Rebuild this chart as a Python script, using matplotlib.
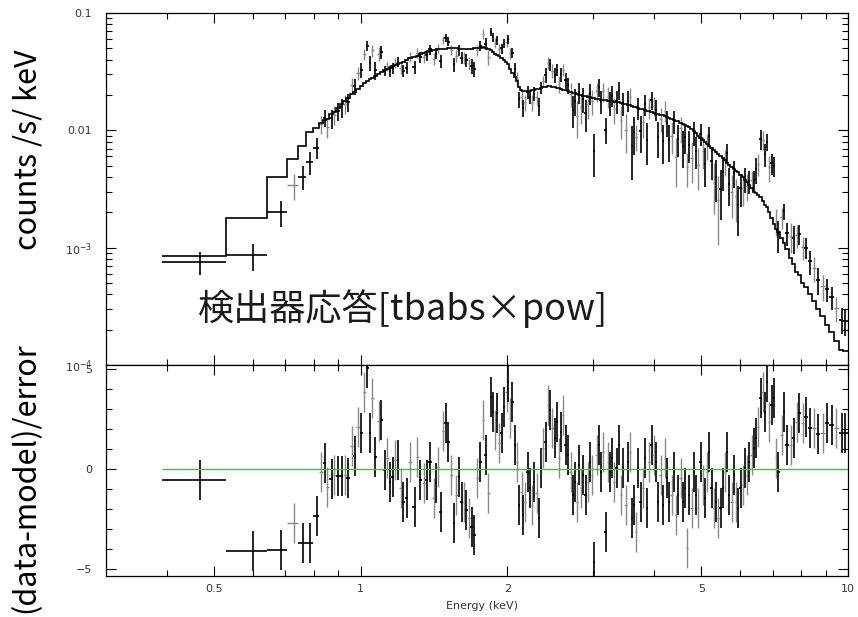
import numpy as np
import matplotlib
matplotlib.use("Agg")
import matplotlib.pyplot as plt
from matplotlib.ticker import FixedLocator, FixedFormatter, NullFormatter, LogLocator

# Spectrum bins: centre energy (keV), folded model (counts/s/keV),
# residual in units of sigma, and 1-sigma error as a fraction of the model.
energy_kev = [
    0.467, 0.600, 0.685, 0.729, 0.760, 0.786, 0.812, 0.830, 0.844, 0.852,
    0.871, 0.880, 0.897, 0.913, 0.927, 0.940, 0.960, 0.972, 0.987, 1.003,
    1.016, 1.030, 1.047, 1.057, 1.072, 1.089, 1.099, 1.120, 1.134, 1.147,
    1.165, 1.178, 1.190, 1.208, 1.221, 1.245, 1.261, 1.291, 1.307, 1.326,
    1.347, 1.368, 1.386, 1.412, 1.430, 1.441, 1.458, 1.476, 1.493, 1.511,
    1.535, 1.552, 1.572, 1.591, 1.610, 1.627, 1.648, 1.669, 1.688, 1.709,
    1.734, 1.756, 1.783, 1.806, 1.826, 1.849, 1.869, 1.890, 1.905, 1.923,
    1.945, 1.969, 1.992, 2.006, 2.029, 2.048, 2.072, 2.094, 2.114, 2.138,
    2.154, 2.172, 2.199, 2.223, 2.248, 2.269, 2.295, 2.320, 2.342, 2.368,
    2.395, 2.418, 2.444, 2.471, 2.503, 2.523, 2.551, 2.575, 2.603, 2.633,
    2.665, 2.696, 2.721, 2.751, 2.773, 2.803, 2.829, 2.861, 2.893, 2.921,
    2.953, 2.985, 3.014, 3.048, 3.082, 3.111, 3.145, 3.181, 3.211, 3.246,
    3.281, 3.313, 3.351, 3.388, 3.420, 3.457, 3.496, 3.529, 3.568, 3.607,
    3.636, 3.670, 3.710, 3.752, 3.788, 3.829, 3.871, 3.908, 3.953, 3.996,
    4.033, 4.078, 4.124, 4.163, 4.208, 4.254, 4.295, 4.345, 4.392, 4.434,
    4.482, 4.534, 4.577, 4.627, 4.677, 4.722, 4.776, 4.828, 4.874, 4.927,
    4.983, 5.030, 5.086, 5.141, 5.190, 5.249, 5.307, 5.358, 5.416, 5.478,
    5.530, 5.590, 5.651, 5.704, 5.769, 5.832, 5.888, 5.952, 6.020, 6.078,
    6.144, 6.212, 6.272, 6.344, 6.412, 6.473, 6.544, 6.619, 6.682, 6.754,
    6.809, 6.892, 6.971, 7.047, 7.115, 7.192, 7.310, 7.389, 7.483, 7.625,
    7.746, 7.847, 7.943, 8.072, 8.200, 8.356, 8.515, 8.690, 8.872, 9.068,
    9.258, 9.449, 9.707, 9.858,
]

model_rate = [
    0.00085, 0.00178, 0.0040, 0.0057, 0.0074, 0.0096, 0.0105, 0.0115, 0.0122, 0.0126,
    0.0138, 0.0143, 0.0155, 0.0167, 0.0178, 0.0188, 0.0203, 0.0213, 0.0226, 0.0240,
    0.0252, 0.0263, 0.0275, 0.0282, 0.0293, 0.0305, 0.0312, 0.0325, 0.0333, 0.0341,
    0.0352, 0.0360, 0.0367, 0.0378, 0.0386, 0.0400, 0.0410, 0.0425, 0.0433, 0.0444,
    0.0455, 0.0465, 0.0472, 0.0480, 0.0486, 0.0489, 0.0493, 0.0496, 0.0498, 0.0500,
    0.0500, 0.0500, 0.0499, 0.0498, 0.0497, 0.0496, 0.0496, 0.0497, 0.0498, 0.0500,
    0.0503, 0.0507, 0.0512, 0.0505, 0.0495, 0.0480, 0.0465, 0.0450, 0.0440, 0.0428,
    0.0412, 0.0398, 0.0384, 0.0370, 0.0335, 0.0310, 0.0285, 0.0262, 0.0235, 0.0222,
    0.0216, 0.0215, 0.0216, 0.0218, 0.0220, 0.0222, 0.0224, 0.0227, 0.0230, 0.0233,
    0.0236, 0.0238, 0.0238, 0.0236, 0.0233, 0.0231, 0.0228, 0.0225, 0.0222, 0.0219,
    0.0215, 0.0212, 0.0210, 0.0207, 0.0205, 0.0202, 0.0200, 0.0198, 0.0196, 0.0194,
    0.0192, 0.0190, 0.0188, 0.0186, 0.0184, 0.0183, 0.0181, 0.0180, 0.0179, 0.0178,
    0.0177, 0.0176, 0.0175, 0.0173, 0.0171, 0.0169, 0.0167, 0.0165, 0.0163, 0.0161,
    0.0159, 0.0157, 0.0155, 0.0153, 0.0151, 0.0149, 0.0147, 0.0145, 0.0143, 0.0141,
    0.0139, 0.0137, 0.0135, 0.0134, 0.0132, 0.0130, 0.0128, 0.0126, 0.0123, 0.0121,
    0.0119, 0.0116, 0.0114, 0.0111, 0.0109, 0.0106, 0.0102, 0.0098, 0.0094, 0.0090,
    0.0086, 0.0083, 0.0080, 0.0077, 0.0074, 0.0071, 0.0068, 0.0066, 0.0063, 0.0060,
    0.0058, 0.0056, 0.0053, 0.0051, 0.0049, 0.0047, 0.0045, 0.0044, 0.0042, 0.0040,
    0.0038, 0.0036, 0.0034, 0.0032, 0.0030, 0.0029, 0.0028, 0.0027, 0.0025, 0.0023,
    0.0022, 0.0020, 0.0018, 0.0016, 0.00145, 0.00135, 0.00120, 0.00110, 0.00098, 0.00082,
    0.00072, 0.00062, 0.00058, 0.00050, 0.00046, 0.00040, 0.00035, 0.00030, 0.00026, 0.00022,
    0.00019, 0.00016, 0.000135, 0.000132,
]

delchi = [
    -0.57, -4.10, -4.03, -2.70, -3.70, -3.70, -2.37, -0.13, 0.28, -0.90,
    -0.50, -0.30, -0.36, -0.36, -0.30, -0.44, 1.15, 0.65, 2.10, 1.82,
    3.83, 5.03, 1.82, 3.53, 0.58, 2.40, 2.45, -0.05, 0.53, -0.63,
    -0.38, 0.45, 0.45, -0.97, -1.63, -1.47, 0.37, -1.88, 0.62, -0.55,
    -0.72, -0.55, 0.37, -1.47, -0.72, 0.12, -2.13, 1.88, 2.28, 1.37,
    -0.30, -2.72, -1.30, -0.38, -1.63, -1.63, -2.05, -2.47, -2.88, -3.30,
    -0.47, 0.37, 2.45, 0.70, -1.22, 3.62, 2.87, 1.95, 2.78, 1.28,
    1.78, 3.12, 3.87, 4.37, 2.53, 3.37, 1.20, 0.37, -1.80, -1.13,
    -2.30, -1.63, -0.13, -0.97, -1.80, -0.63, -1.22, -2.47, 0.03, 1.03,
    1.37, 3.20, 2.95, 2.03, 1.53, 2.37, 0.53, 1.87, 2.70, 1.20,
    0.70, -0.13, -1.30, -0.63, -1.63, 0.20, -0.97, -0.30, -1.30, -0.63,
    0.37, -0.30, -4.63, 0.70, 1.20, -0.13, 0.87, -3.13, 0.37, -0.13,
    0.53, -0.63, 0.03, 1.20, -1.30, 0.03, -1.80, 0.37, 0.87, -2.47,
    -1.80, -3.13, 0.03, -1.63, -0.97, 0.53, -1.97, 0.37, 1.20, 0.70,
    0.37, -1.63, -0.30, -1.80, 0.53, -0.47, -1.63, -1.30, -0.13, -2.30,
    -1.30, -0.47, -1.63, -0.97, -3.97, -1.30, -1.97, -0.13, -1.30, -1.97,
    0.37, -0.80, -1.47, -0.13, 0.87, -0.97, -1.97, -1.63, -2.47, -1.97,
    -0.97, -0.13, 0.87, -1.30, -1.63, -0.30, -1.63, -1.97, -0.97, -0.80,
    0.03, -0.30, 0.37, 0.70, 1.03, 1.53, 2.12, 3.53, 3.87, 2.87,
    4.37, 2.37, 3.20, 3.53, 0.53, -0.13, 1.70, 2.87, 1.20, 1.20,
    1.53, 2.37, 2.78, 2.28, 2.62, 2.03, 2.03, 1.73, 1.78, 2.28,
    2.20, 2.03, 1.78, 1.78,
]

# fractional 1-sigma error, band by band
err_frac = (
    [0.20, 0.126, 0.124, 0.15, 0.124, 0.12, 0.137]   # 0.47-0.81 keV
    + [0.17] * 12                                    # 0.83-0.99 keV
    + [0.20] * 8                                     # 1.00-1.10 keV
    + [0.10] * 35                                    # 1.12-1.76 keV
    + [0.12] * 11                                    # 1.78-1.99 keV
    + [0.14] * 5                                     # 2.00-2.09 keV
    + [0.12] * 12                                    # 2.11-2.37 keV
    + [0.18] * 11                                    # 2.40-2.67 keV
    + [0.22] * 11 + [0.14]                           # 2.70-3.01 keV
    + [0.22] * 4 + [0.14]                            # 3.05-3.18 keV
    + [0.22] * 13 + [0.14]                           # 3.21-3.67 keV
    + [0.22] * 22 + [0.14]                           # 3.71-4.68 keV
    + [0.22] * 5                                     # 4.72-4.93 keV
    + [0.24] * 25                                    # 4.98-6.41 keV
    + [0.40] * 2                                     # 6.47-6.54 keV
    + [0.60] * 7                                     # 6.62-7.05 keV (Fe K)
    + [0.30] * 5                                     # 7.12-7.48 keV
    + [0.45] * 15                                    # 7.63-9.86 keV
)

# which detector each bin comes from: k = black, g = grey
detector = "".join([
    "kkkgkkkgkg", "kgkkgkgkgk", "gkkgkgkkgk", "kgkgkkgkgk", "gkkgkgkgkk",
    "gkgkkgkgkk", "gkgkgkkgkg", "kkgkgkkgkg", "kgkkgkgkkg", "kgkgkkgkgk",
    "kgkkgkgkkg", "kgkgkkgkgk", "kgkkgkgkgk", "kgkkgkkgkg", "kkgkgkkgkg",
    "kgkkgkgkkg", "kgkgkkgkgk", "kgkkgkgkkg", "kgkgkkgkgk", "kgkkgkgkkg",
    "kgkgkkgkgk", "kgkk",
])

band_lo, band_hi = 0.39, 10.0

E = np.array(energy_kev)
edges = np.concatenate([[band_lo], np.sqrt(E[1:] * E[:-1]), [band_hi]])
xlo = E - edges[:-1]
xhi = edges[1:] - E
model = np.array(model_rate)
sigma = model * np.array(err_frac)
resid = np.array(delchi)
rate = model + resid * sigma
det = np.array(list(detector))

plt.rcParams["font.family"] = ["DejaVu Sans"]
JP = ["Noto Sans CJK JP", "DejaVu Sans"]
TICK_COLOR = "#333333"
styles = {"g": ("#8a8a8a", 1.0), "k": ("#000000", 1.2)}

W, H = 858, 617
fig = plt.figure(figsize=(W / 100, H / 100), dpi=100)
ax1 = fig.add_axes([106 / W, 1 - 365 / H, 742 / W, 352 / H])
ax2 = fig.add_axes([106 / W, 1 - 576 / H, 742 / W, 211 / H], sharex=ax1)

for key in ("g", "k"):
    m = det == key
    col, lw = styles[key]
    ax1.errorbar(E[m], rate[m], xerr=[xlo[m], xhi[m]], yerr=sigma[m],
                 fmt="none", ecolor=col, elinewidth=lw, capsize=0)
    ax2.errorbar(E[m], resid[m], xerr=[xlo[m], xhi[m]], yerr=np.ones(m.sum()),
                 fmt="none", ecolor=col, elinewidth=lw, capsize=0)

ax1.stairs(model, edges, color="black", lw=1.2, baseline=None, zorder=4)
ax2.hlines(0, band_lo, band_hi, color="#00ee00", lw=1.0, zorder=5)

ax1.set_xscale("log")
ax1.set_yscale("log")
ax1.set_xlim(0.3, 10)
ax1.set_ylim(1e-4, 0.1)
ax2.set_ylim(-5.35, 5.2)

x_major = [0.5, 1, 2, 5, 10]
x_minor = [0.4, 0.6, 0.7, 0.8, 0.9, 3, 4, 6, 7, 8, 9]
for ax in (ax1, ax2):
    ax.xaxis.set_major_locator(FixedLocator(x_major))
    ax.xaxis.set_minor_locator(FixedLocator(x_minor))
    ax.xaxis.set_minor_formatter(NullFormatter())
    ax.tick_params(which="both", direction="in", top=True, right=True,
                   width=0.8, colors="black", labelcolor=TICK_COLOR, labelsize=8)
    ax.tick_params(which="major", length=7)
    ax.tick_params(which="minor", length=4)
    ax.tick_params(axis="y", pad=10)
    ax.tick_params(axis="x", pad=6)
    for s in ax.spines.values():
        s.set_linewidth(0.9)

ax1.tick_params(labelbottom=False)
ax2.xaxis.set_major_formatter(FixedFormatter(["0.5", "1", "2", "5", "10"]))

ax1.yaxis.set_major_locator(FixedLocator([1e-4, 1e-3, 1e-2, 1e-1]))
ax1.yaxis.set_major_formatter(FixedFormatter([r"$10^{-4}$", r"$10^{-3}$", "0.01", "0.1"]))
ax1.yaxis.set_minor_locator(LogLocator(base=10, subs=np.arange(2, 10)))
ax1.yaxis.set_minor_formatter(NullFormatter())

ax2.yaxis.set_major_locator(FixedLocator([-5, 0, 5]))
ax2.yaxis.set_major_formatter(FixedFormatter(["\u22125", "0", "5"]))
ax2.yaxis.set_minor_locator(FixedLocator([-4, -3, -2, -1, 1, 2, 3, 4]))

fig.text(482 / W, 1 - 606 / H, "Energy (keV)", ha="center", va="center",
         fontsize=8, color=TICK_COLOR)

fig.text(28 / W, 1 - 150 / H, "counts /s/ keV", rotation=90, ha="center",
         va="center", fontsize=22, family=JP, color="black")
fig.text(26 / W, 1 - 478 / H, "(data-model)/error", rotation=90, ha="center",
         va="center", fontsize=22, family=JP, color="black")
fig.text(403 / W, 1 - 309 / H, "検出器応答[tbabs×pow]", ha="center",
         va="center", fontsize=26, family=JP, color="#1a1a1a")

fig.savefig("out.png", dpi=100)
